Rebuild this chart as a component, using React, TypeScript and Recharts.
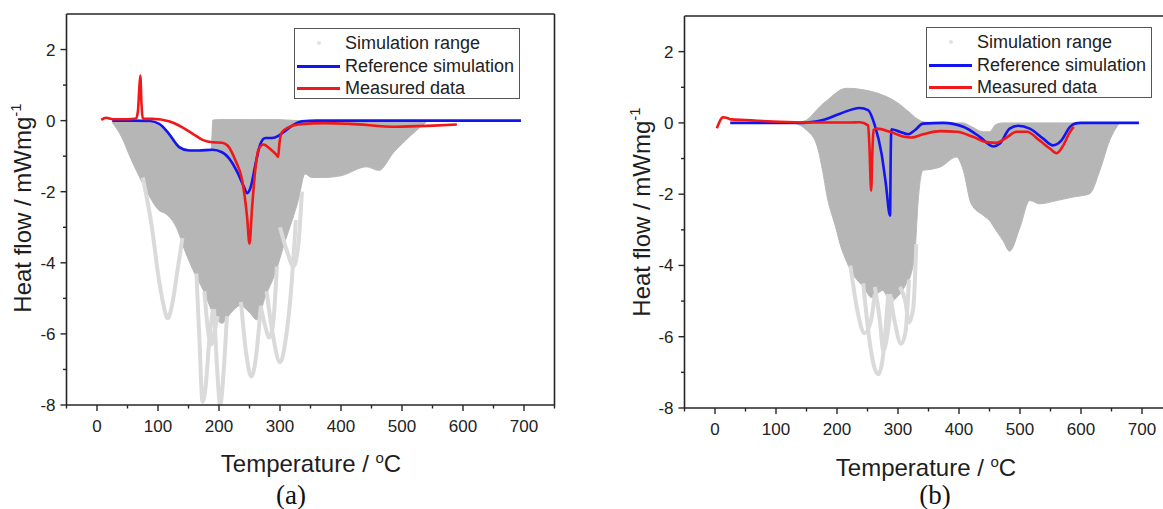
import React from "react";
import {
  ComposedChart,
  Area,
  Line,
  XAxis,
  YAxis,
  Legend,
  ReferenceLine,
} from "recharts";

const FONT = '"Liberation Sans", Arial, Helvetica, sans-serif';
const SERIF = '"Liberation Serif", "Times New Roman", serif';
const BLUE = "#1414f0";
const RED = "#f01818";
const GRAY = "#b6b6b6";
const LIGHT = "#dadada";
const AXIS = "#262626";

const X_TICKS = [-50, 0, 50, 100, 150, 200, 250, 300, 350, 400, 450, 500, 550, 600, 650, 700, 750];
const Y_TICKS = [-8, -7, -6, -5, -4, -3, -2, -1, 0, 1, 2];

const LEGEND_ITEMS = ["Simulation range", "Reference simulation", "Measured data"];

// ---- panel (a) ----
const refTempA = [25, 60, 86, 102, 118, 135, 151, 167, 189, 205, 219, 230, 241, 246, 252, 260, 268, 276, 287, 298, 309, 320, 336, 360, 500, 695];
const refValA = [0, 0, -0.01, -0.09, -0.37, -0.75, -0.84, -0.84, -0.82, -0.89, -1.12, -1.45, -1.87, -2.04, -1.87, -1.21, -0.65, -0.49, -0.49, -0.42, -0.28, -0.14, -0.02, 0, 0, 0];

const measTempA = [7, 15, 26, 50, 64, 67, 69, 71, 73, 75, 78, 91, 118, 140, 157, 173, 189, 205, 214, 227, 238, 246, 250, 254, 260, 265, 273, 284, 295, 297, 299, 303, 314, 330, 374, 415, 491, 551, 590];
const measValA = [0.02, 0.08, 0.04, 0.04, 0.06, 0.25, 0.8, 1.27, 0.45, 0.08, 0.05, 0.05, -0.02, -0.19, -0.37, -0.54, -0.61, -0.62, -0.7, -1.12, -1.68, -2.7, -3.46, -2.5, -1.3, -0.8, -0.67, -0.8, -0.98, -1.02, -0.65, -0.33, -0.19, -0.11, -0.07, -0.09, -0.17, -0.14, -0.11];

const simTempA = [25, 40, 55, 70, 85, 100, 115, 130, 145, 160, 175, 187, 190, 205, 220, 235, 250, 262, 276, 292, 309, 320, 330, 341, 352, 370, 400, 442, 462, 486, 513, 540];
const simHighA = [0, -0.02, -0.03, -0.04, -0.06, -0.13, -0.33, -0.62, -0.8, -0.84, -0.84, -0.84, 0.02, 0.03, 0.03, 0.03, 0.03, 0.03, 0.03, 0.03, 0.02, 0.01, 0, 0, 0, 0, 0, 0, 0, 0, 0, 0];
const simLowA = [-0.05, -0.45, -1.05, -1.6, -2.1, -2.5, -2.65, -3.0, -3.7, -4.3, -4.8, -5.3, -5.4, -5.7, -5.4, -5.2, -5.4, -5.6, -4.95, -4.3, -3.36, -2.8, -2.24, -1.5, -1.6, -1.6, -1.55, -1.3, -1.4, -0.9, -0.44, -0.04];

// faint single runs outside the dense band
const outTempsA = [
  [75, 90, 100, 108, 116, 124, 132, 140],
  [163, 168, 173, 178, 184, 190],
  [192, 197, 202, 207, 213],
  [176, 182, 187, 193, 198],
  [236, 245, 253, 261, 268],
  [268, 276, 282, 288, 295],
  [278, 289, 300, 309, 318, 326],
  [300, 312, 322, 330, 336],
];
const outValsA = [
  [-1.6, -3.0, -4.3, -5.1, -5.56, -5.1, -4.2, -3.3],
  [-4.3, -6.2, -7.9, -7.5, -6.2, -5.3],
  [-5.3, -7.0, -8.0, -7.2, -5.5],
  [-4.8, -5.9, -6.3, -5.9, -5.5],
  [-5.1, -6.6, -7.2, -6.6, -5.3],
  [-5.2, -5.8, -6.1, -5.8, -4.1],
  [-4.8, -6.1, -6.8, -6.2, -4.8, -2.8],
  [-3.0, -3.7, -4.1, -3.5, -2.0],
];

// ---- panel (b) ----
const refTempB = [25, 100, 140, 150, 177, 205, 237, 251, 262, 273, 280, 287, 288, 289, 303, 317, 328, 341, 374, 407, 434, 456, 467, 483, 497, 516, 538, 554, 568, 582, 590, 600, 695];
const refValB = [0, 0, 0, 0.01, 0.08, 0.26, 0.42, 0.36, -0.07, -0.86, -1.7, -2.6, -1.0, -0.18, -0.25, -0.32, -0.2, -0.02, 0, -0.11, -0.39, -0.66, -0.58, -0.16, -0.08, -0.16, -0.44, -0.63, -0.49, -0.11, -0.02, 0, 0];

const measTempB = [3, 8, 12.6, 20, 26, 50, 70, 95, 150, 220, 237, 251, 253, 256, 258, 260, 265, 287, 308, 322, 341, 369, 396, 423, 445, 461, 478, 494, 511, 532, 549, 560, 571, 582, 588];
const measValB = [-0.15, 0.05, 0.16, 0.14, 0.1, 0.08, 0.06, 0.04, 0.01, 0.01, 0.02, -0.07, -0.6, -1.9, -0.8, -0.2, -0.16, -0.25, -0.38, -0.41, -0.32, -0.23, -0.25, -0.39, -0.54, -0.56, -0.41, -0.25, -0.25, -0.49, -0.72, -0.85, -0.63, -0.25, -0.11];

const simTempB = [130, 150, 166, 177, 183, 199, 205, 216, 221, 243, 257, 275, 287, 303, 314, 322, 328, 333, 341, 355, 369, 396, 407, 420, 440, 450, 460, 472, 483, 500, 516, 532, 560, 587, 614, 631, 647, 663];
const simHighB = [0, 0.08, 0.35, 0.54, 0.62, 0.85, 0.92, 0.97, 0.97, 0.93, 0.88, 0.78, 0.69, 0.52, 0.36, 0.25, 0.15, 0.1, 0.03, 0.01, 0, 0, 0, -0.1, -0.25, -0.25, -0.05, 0, 0, 0, 0, 0, 0, 0, 0, 0, 0, 0];
const simLowB = [0, -0.2, -0.58, -1.4, -2.0, -3.0, -3.4, -3.9, -4.1, -4.6, -4.9, -4.7, -5.0, -4.8, -4.5, -4.2, -3.6, -2.2, -1.33, -1.3, -1.24, -0.96, -1.33, -2.27, -2.6, -2.74, -3.0, -3.3, -3.6, -2.93, -2.18, -2.27, -2.18, -2.08, -1.99, -1.33, -0.49, 0];

const outTempsB = [
  [222, 235, 245, 255, 262],
  [243, 254, 262, 268, 275, 284],
  [262, 270, 276, 282, 290],
  [287, 296, 305, 312, 318],
  [303, 312, 318, 325, 330],
];
const outValsB = [
  [-4.0, -5.4, -5.9, -5.6, -4.8],
  [-4.5, -6.2, -6.9, -7.05, -6.6, -4.8],
  [-4.6, -5.5, -6.4, -6.0, -4.9],
  [-4.8, -5.7, -6.2, -5.9, -4.4],
  [-4.6, -5.0, -5.6, -5.2, -3.4],
];

const pts = (t: number[], v: number[]) => t.map((x, i) => ({ t: x, v: v[i] }));
const band = (t: number[], lo: number[], hi: number[]) =>
  t.map((x, i) => ({ t: x, range: [lo[i], hi[i]] }));

function XTick(props: any) {
  const { x, y, payload } = props;
  const major = payload.value % 100 === 0;
  return (
    <g>
      <line x1={x} x2={x} y1={y} y2={y + (major ? 6 : 3.5)} stroke={AXIS} strokeWidth={1.4} />
      {major && (
        <text x={x} y={y + 27} textAnchor="middle" fontSize={17} fontFamily={FONT} fill="#222">
          {payload.value}
        </text>
      )}
    </g>
  );
}

function YTick(props: any) {
  const { x, y, payload } = props;
  const major = payload.value % 2 === 0;
  return (
    <g>
      <line x1={x} x2={x - (major ? 6 : 3.5)} y1={y} y2={y} stroke={AXIS} strokeWidth={1.4} />
      {major && (
        <text x={x - 11} y={y + 6} textAnchor="end" fontSize={17} fontFamily={FONT} fill="#222">
          {payload.value}
        </text>
      )}
    </g>
  );
}

function LegendBox() {
  const colors = [null, BLUE, RED];
  return (
    <div
      style={{
        width: 226,
        height: 71,
        boxSizing: "border-box",
        border: "1px solid #555",
        background: "#fff",
        fontFamily: FONT,
        fontSize: 18,
        color: "#222",
        position: "relative",
      }}
    >
      {LEGEND_ITEMS.map((name, i) => (
        <div
          key={name}
          style={{ position: "absolute", left: 0, top: 3 + i * 22.5, height: 22, width: 224, lineHeight: "22px" }}
        >
          {colors[i] ? (
            <div style={{ position: "absolute", left: 2, top: 10, width: 43, height: 3, background: colors[i] as string }} />
          ) : (
            <div style={{ position: "absolute", left: 22, top: 9, width: 4, height: 4, borderRadius: 2, background: "#e2e2e2" }} />
          )}
          <span style={{ position: "absolute", left: 50, top: 0, whiteSpace: "nowrap" }}>{name}</span>
        </div>
      ))}
    </div>
  );
}

type PanelProps = {
  width: number;
  margin: { top: number; right: number; bottom: number; left: number };
  legendPos: { left: number; top: number };
  ref: { t: number[]; v: number[] };
  meas: { t: number[]; v: number[] };
  sim: { t: number[]; lo: number[]; hi: number[] };
  outT: number[][];
  outV: number[][];
};

function Panel({ width, margin, legendPos, ref, meas, sim, outT, outV }: PanelProps) {
  return (
    <ComposedChart width={width} height={509} margin={margin}>
      <XAxis
        dataKey="t"
        type="number"
        domain={[-50, 750]}
        allowDataOverflow
        ticks={X_TICKS}
        interval={0}
        height={30}
        tickSize={0}
        tickMargin={0}
        tickLine={false}
        tick={<XTick />}
        axisLine={{ stroke: AXIS, strokeWidth: 1.6 }}
      />
      <YAxis
        type="number"
        domain={[-8, 3]}
        allowDataOverflow
        ticks={Y_TICKS}
        interval={0}
        width={60}
        tickSize={0}
        tickMargin={0}
        tickLine={false}
        tick={<YTick />}
        axisLine={{ stroke: AXIS, strokeWidth: 1.6 }}
      />
      <ReferenceLine y={3} stroke={AXIS} strokeWidth={1.6} />
      <ReferenceLine x={750} stroke={AXIS} strokeWidth={1.6} />
      {outT.map((t, i) => (
        <Line
          key={i}
          data={pts(t, outV[i])}
          dataKey="v"
          type="monotone"
          stroke={LIGHT}
          strokeWidth={4}
          dot={false}
          isAnimationActive={false}
          legendType="none"
        />
      ))}
      <Area
        data={band(sim.t, sim.lo, sim.hi)}
        dataKey="range"
        type="monotone"
        fill={GRAY}
        fillOpacity={1}
        stroke={GRAY}
        strokeWidth={1}
        isAnimationActive={false}
        legendType="none"
      />
      <Line data={pts(ref.t, ref.v)} dataKey="v" type="monotone" stroke={BLUE} strokeWidth={2.6} dot={false} isAnimationActive={false} />
      <Line data={pts(meas.t, meas.v)} dataKey="v" type="monotone" stroke={RED} strokeWidth={2.6} dot={false} isAnimationActive={false} />
      <Legend
        layout="vertical"
        align="center"
        verticalAlign="middle"
        content={() => <LegendBox />}
        wrapperStyle={{ position: "absolute", left: legendPos.left, top: legendPos.top, width: 226, height: 71 }}
      />
    </ComposedChart>
  );
}

const titleStyle: React.CSSProperties = {
  position: "absolute",
  fontFamily: FONT,
  fontSize: 24,
  color: "#1e1e1e",
  whiteSpace: "nowrap",
  lineHeight: 1,
};

function XTitle({ cx, cy }: { cx: number; cy: number }) {
  return (
    <div style={{ ...titleStyle, left: cx, top: cy, transform: "translate(-50%, -50%)" }}>
      Temperature / <span style={{ fontSize: 15, verticalAlign: 9 }}>o</span>C
    </div>
  );
}

function YTitle({ cx, cy }: { cx: number; cy: number }) {
  return (
    <div style={{ ...titleStyle, left: cx, top: cy, transform: "translate(-50%, -50%) rotate(-90deg)" }}>
      Heat flow / mWmg<span style={{ fontSize: 15, verticalAlign: 10 }}>-1</span>
    </div>
  );
}

function Caption({ cx, cy, text }: { cx: number; cy: number; text: string }) {
  return (
    <div
      style={{
        position: "absolute",
        left: cx,
        top: cy,
        transform: "translate(-50%, -50%)",
        fontFamily: SERIF,
        fontSize: 27,
        color: "#111",
        lineHeight: 1,
      }}
    >
      {text}
    </div>
  );
}

export default function App() {
  return (
    <div style={{ position: "absolute", left: 0, top: 0, width: 1163, height: 509, overflow: "hidden", background: "#fff" }}>
      <div style={{ position: "absolute", left: 0, top: 0 }}>
        <Panel
          width={580}
          margin={{ top: 14, right: 25.5, bottom: 74, left: 6.5 }}
          legendPos={{ left: 294, top: 28 }}
          ref={{ t: refTempA, v: refValA }}
          meas={{ t: measTempA, v: measValA }}
          sim={{ t: simTempA, lo: simLowA, hi: simHighA }}
          outT={outTempsA}
          outV={outValsA}
        />
      </div>
      <div style={{ position: "absolute", left: 580, top: 0 }}>
        <Panel
          width={600}
          margin={{ top: 16, right: 7.5, bottom: 71, left: 44.5 }}
          legendPos={{ left: 346, top: 27 }}
          ref={{ t: refTempB, v: refValB }}
          meas={{ t: measTempB, v: measValB }}
          sim={{ t: simTempB, lo: simLowB, hi: simHighB }}
          outT={outTempsB}
          outV={outValsB}
        />
      </div>
      <YTitle cx={21} cy={208} />
      <YTitle cx={640} cy={212} />
      <XTitle cx={311} cy={463} />
      <XTitle cx={926} cy={467} />
      <Caption cx={291} cy={495} text="(a)" />
      <Caption cx={935} cy={495} text="(b)" />
    </div>
  );
}
